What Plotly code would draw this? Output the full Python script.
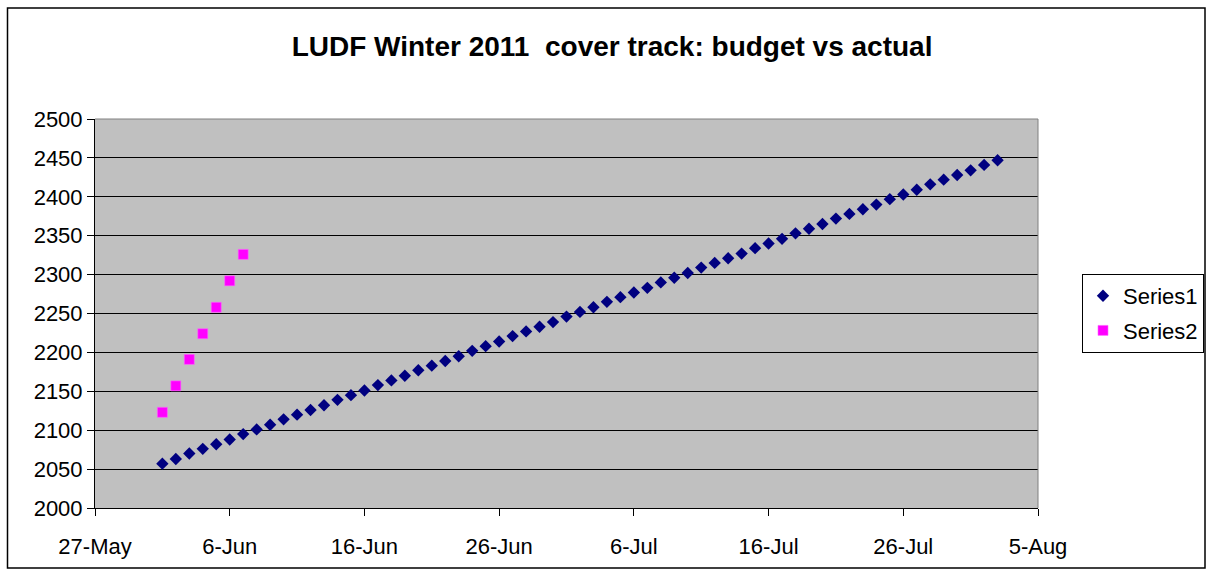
import plotly.graph_objects as go

title_text = "<b>LUDF Winter 2011  cover track: budget vs actual</b>"

series1_dates = [
    "2011-06-01", "2011-06-02", "2011-06-03", "2011-06-04", "2011-06-05", "2011-06-06", "2011-06-07",
    "2011-06-08", "2011-06-09", "2011-06-10", "2011-06-11", "2011-06-12", "2011-06-13", "2011-06-14",
    "2011-06-15", "2011-06-16", "2011-06-17", "2011-06-18", "2011-06-19", "2011-06-20", "2011-06-21",
    "2011-06-22", "2011-06-23", "2011-06-24", "2011-06-25", "2011-06-26", "2011-06-27", "2011-06-28",
    "2011-06-29", "2011-06-30", "2011-07-01", "2011-07-02", "2011-07-03", "2011-07-04", "2011-07-05",
    "2011-07-06", "2011-07-07", "2011-07-08", "2011-07-09", "2011-07-10", "2011-07-11", "2011-07-12",
    "2011-07-13", "2011-07-14", "2011-07-15", "2011-07-16", "2011-07-17", "2011-07-18", "2011-07-19",
    "2011-07-20", "2011-07-21", "2011-07-22", "2011-07-23", "2011-07-24", "2011-07-25", "2011-07-26",
    "2011-07-27", "2011-07-28", "2011-07-29", "2011-07-30", "2011-07-31", "2011-08-01", "2011-08-02",
]
series1_values = [
    2057, 2063, 2070, 2076, 2082, 2088, 2095, 2101, 2107, 2114,
    2120, 2126, 2132, 2139, 2145, 2151, 2158, 2164, 2170, 2177,
    2183, 2189, 2195, 2202, 2208, 2214, 2221, 2227, 2233, 2239,
    2246, 2252, 2258, 2265, 2271, 2277, 2283, 2290, 2296, 2302,
    2309, 2315, 2321, 2327, 2334, 2340, 2346, 2353, 2359, 2365,
    2372, 2378, 2384, 2390, 2397, 2403, 2409, 2416, 2422, 2428,
    2434, 2441, 2447,
]

series2_dates = ["2011-06-01", "2011-06-02", "2011-06-03", "2011-06-04", "2011-06-05", "2011-06-06", "2011-06-07"]
series2_values = [2123, 2157, 2191, 2224, 2258, 2292, 2326]

x_range = ["2011-05-27", "2011-08-05"]
y_range = [2000, 2500]

fig = go.Figure()
fig.add_trace(go.Scatter(
    x=series1_dates, y=series1_values, mode="markers", name="Series1", legendgroup="s1",
    marker=dict(symbol="diamond", size=9.5, color="#000080", line=dict(width=0)),
))
fig.add_trace(go.Scatter(
    x=series2_dates, y=series2_values, mode="markers", name="Series2", legendgroup="s2",
    marker=dict(symbol="square", size=10, color="#FF00FF", line=dict(width=0.6, color="#FF66FF")),
))

# pixel geometry helpers (plot area 95..1038 x, 119..508 y)
L, R, T, B = 95, 1038, 119, 508
def px_x(p):
    return (p - L) / (R - L)
def px_y(p):
    return (B - p) / (B - T)

fig.update_layout(
    width=1212, height=574,
    margin=dict(l=L, r=1212 - R, t=T, b=574 - B, autoexpand=False),
    paper_bgcolor="white",
    plot_bgcolor="#C0C0C0",
    font=dict(family="Liberation Sans, Arial, sans-serif", size=22, color="black"),
    title=dict(text=title_text, x=0.505, xanchor="center", y=1 - 46 / 574, yanchor="middle",
               font=dict(size=28, color="black")),
    showlegend=True,
    legend=dict(x=px_x(1082), xanchor="left", y=0.5, yanchor="middle",
                bordercolor="black", borderwidth=1, bgcolor="white",
                font=dict(size=22), itemwidth=30, tracegroupgap=3, traceorder="grouped"),
    xaxis=dict(
        type="date", range=x_range, tick0="2011-05-27", dtick=10 * 86400000,
        tickformat="%-d-%b", ticks="outside", ticklen=7, tickcolor="black",
        showline=True, linecolor="black", linewidth=1, showgrid=False, zeroline=False,
        ticklabelstandoff=12,
    ),
    yaxis=dict(
        range=y_range, dtick=50, ticks="outside", ticklen=7, tickcolor="black",
        showline=True, linecolor="black", linewidth=1,
        showgrid=True, gridcolor="black", gridwidth=1, zeroline=False,
    ),
    shapes=[
        dict(type="line", xref="paper", yref="paper", x0=0, x1=1, y0=1, y1=1,
             line=dict(color="#808080", width=1)),
        dict(type="line", xref="paper", yref="paper", x0=1, x1=1, y0=0, y1=1,
             line=dict(color="#808080", width=1)),
        dict(type="rect", xref="paper", yref="paper", x0=px_x(7.5), x1=px_x(1205), y0=px_y(8), y1=px_y(568),
             line=dict(color="black", width=1.5), fillcolor="rgba(0,0,0,0)"),
    ],
)

fig.write_html("out.html", config={"displayModeBar": False},
               post_script="document.body.style.margin='0';document.body.style.overflow='hidden';")
